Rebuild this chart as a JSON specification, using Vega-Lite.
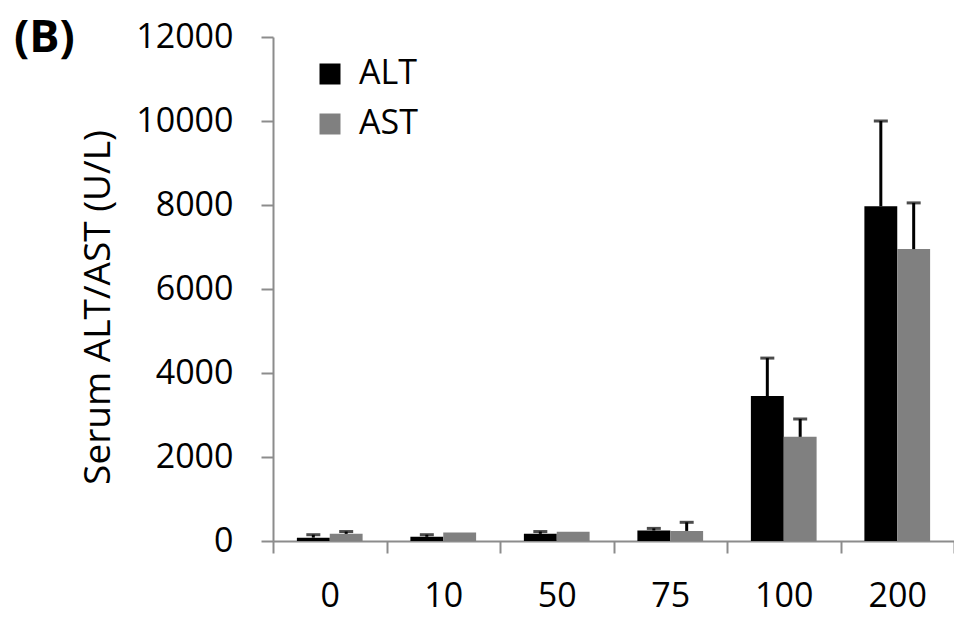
{
  "$schema": "https://vega.github.io/schema/vega-lite/v6.json",
  "autosize": {"type": "none"},
  "width": 681,
  "height": 504,
  "padding": {"left": 273, "top": 37, "right": 0, "bottom": 77},
  "background": "white",
  "config": {
    "view": {"stroke": null},
    "font": "Open Sans"
  },
  "title": {
    "text": "(B)",
    "frame": "group",
    "anchor": "start",
    "dx": -259,
    "dy": 77,
    "offset": 0,
    "baseline": "alphabetic",
    "fontSize": 45,
    "fontWeight": "bold",
    "font": "Open Sans",
    "color": "#000000"
  },
  "data": {
    "values": [
      {"dose": "0", "series": "ALT", "value": 80, "top": 150},
      {"dose": "0", "series": "AST", "value": 170, "top": 225},
      {"dose": "10", "series": "ALT", "value": 100, "top": 150},
      {"dose": "10", "series": "AST", "value": 200, "top": 200},
      {"dose": "50", "series": "ALT", "value": 170, "top": 225},
      {"dose": "50", "series": "AST", "value": 220, "top": 220},
      {"dose": "75", "series": "ALT", "value": 250, "top": 300},
      {"dose": "75", "series": "AST", "value": 240, "top": 445},
      {"dose": "100", "series": "ALT", "value": 3450, "top": 4355},
      {"dose": "100", "series": "AST", "value": 2480, "top": 2905},
      {"dose": "200", "series": "ALT", "value": 7970, "top": 10000},
      {"dose": "200", "series": "AST", "value": 6950, "top": 8050}
    ]
  },
  "encoding": {
    "x": {
      "field": "dose",
      "type": "nominal",
      "sort": ["0", "10", "50", "75", "100", "200"],
      "scale": {"paddingInner": 0, "paddingOuter": 0},
      "axis": {
        "title": null,
        "labelAngle": 0,
        "labelFontSize": 34,
        "labelFont": "Open Sans",
        "labelColor": "#000000",
        "labelPadding": 26,
        "labelBaseline": "top",
        "tickBand": "extent",
        "tickSize": 12,
        "tickWidth": 2,
        "tickColor": "#8c8c8c",
        "domainColor": "#8c8c8c",
        "domainWidth": 2
      }
    },
    "xOffset": {
      "field": "series",
      "type": "nominal",
      "sort": ["ALT", "AST"],
      "scale": {"paddingInner": 0, "paddingOuter": 0.727}
    }
  },
  "layer": [
    {
      "mark": {"type": "bar"},
      "encoding": {
        "y": {
          "field": "value",
          "type": "quantitative",
          "scale": {"domain": [0, 12000], "nice": false},
          "axis": {
            "title": "Serum ALT/AST (U/L)",
            "titleFontSize": 37,
            "titleFont": "Open Sans",
            "titleFontWeight": "normal",
            "titleColor": "#000000",
            "titleX": -175,
            "titleY": 270,
            "titleAngle": -90,
            "titleAlign": "center",
            "titleBaseline": "middle",
            "values": [0, 2000, 4000, 6000, 8000, 10000, 12000],
            "format": "d",
            "grid": false,
            "labelFontSize": 34,
            "labelFont": "Open Sans",
            "labelColor": "#000000",
            "labelPadding": 28,
            "tickSize": 12,
            "tickWidth": 2,
            "tickColor": "#8c8c8c",
            "domainColor": "#8c8c8c",
            "domainWidth": 2
          }
        },
        "color": {
          "field": "series",
          "type": "nominal",
          "scale": {"domain": ["ALT", "AST"], "range": ["#000000", "#808080"]},
          "legend": {
            "title": null,
            "orient": "none",
            "legendX": 40,
            "legendY": 20,
            "padding": 0,
            "symbolType": "square",
            "symbolSize": 441,
            "symbolStrokeWidth": 0,
            "labelFontSize": 34,
            "labelFont": "Open Sans",
            "labelColor": "#000000",
            "labelOffset": 12,
            "rowPadding": 16
          }
        }
      }
    },
    {
      "transform": [{"filter": "datum.top > datum.value"}],
      "mark": {"type": "rule", "color": "#000000", "strokeWidth": 3},
      "encoding": {
        "y": {"field": "value", "type": "quantitative"},
        "y2": {"field": "top"}
      }
    },
    {
      "transform": [{"filter": "datum.top > datum.value"}],
      "mark": {"type": "tick", "color": "#000000", "thickness": 3, "size": 14, "orient": "horizontal"},
      "encoding": {
        "y": {"field": "top", "type": "quantitative"}
      }
    }
  ]
}
